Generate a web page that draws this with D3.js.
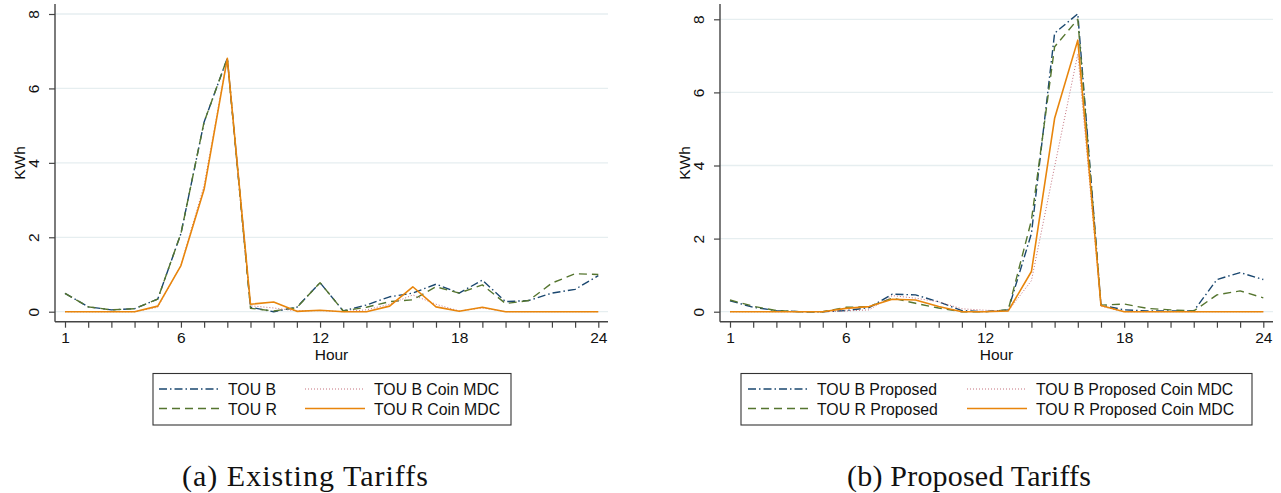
<!DOCTYPE html>
<html>
<head>
<meta charset="utf-8">
<script src="https://cdn.jsdelivr.net/npm/d3@7"></script>
<style>
  html, body { margin: 0; padding: 0; background: #fff; }
  svg { display: block; }
  text { font-family: "Liberation Sans", Arial, Helvetica, sans-serif; fill: #111; }
  .caption { font-family: "Liberation Serif", "Times New Roman", serif; }
</style>
</head>
<body>
<svg id="chart" width="1281" height="493"></svg>
<script>
// Hour of day (x categories) and labelled ticks
const hours = [1, 2, 3, 4, 5, 6, 7, 8, 9, 10, 11, 12, 13, 14, 15, 16, 17, 18, 19, 20, 21, 22, 23, 24];
const hourTickLabels = [1, 6, 12, 18, 24];
const kwhTicks = [0, 2, 4, 6, 8];

// (a) Existing tariffs, average KWh per hour
const existingTouB     = [0.49, 0.13, 0.05, 0.08, 0.34, 2.10, 5.10, 6.81, 0.12, 0.00, 0.12, 0.78, 0.02, 0.18, 0.40, 0.50, 0.74, 0.50, 0.85, 0.27, 0.30, 0.50, 0.60, 0.97];
const existingTouR     = [0.49, 0.13, 0.05, 0.08, 0.34, 2.10, 5.10, 6.81, 0.09, 0.02, 0.11, 0.78, 0.02, 0.12, 0.27, 0.32, 0.67, 0.50, 0.72, 0.22, 0.30, 0.77, 1.02, 1.00];
const existingTouBCoin = [0.00, 0.00, 0.00, 0.00, 0.12, 1.25, 3.40, 6.81, 0.16, 0.10, 0.02, 0.03, 0.00, 0.05, 0.20, 0.45, 0.20, 0.02, 0.10, 0.00, 0.00, 0.00, 0.00, 0.00];
const existingTouRCoin = [0.00, 0.00, 0.00, 0.00, 0.15, 1.24, 3.29, 6.81, 0.20, 0.26, 0.01, 0.04, 0.00, 0.00, 0.15, 0.67, 0.13, 0.01, 0.12, 0.00, 0.00, 0.00, 0.00, 0.00];

// (b) Proposed tariffs, average KWh per hour
const proposedTouB     = [0.30, 0.12, 0.03, 0.00, 0.00, 0.03, 0.11, 0.48, 0.46, 0.27, 0.03, 0.00, 0.05, 2.14, 7.62, 8.15, 0.18, 0.05, 0.02, 0.02, 0.02, 0.88, 1.07, 0.88];
const proposedTouR     = [0.32, 0.15, 0.03, 0.00, 0.00, 0.12, 0.14, 0.37, 0.23, 0.10, 0.00, 0.00, 0.05, 2.50, 7.25, 8.00, 0.18, 0.21, 0.09, 0.05, 0.02, 0.46, 0.57, 0.38];
const proposedTouBCoin = [0.00, 0.00, 0.00, 0.00, 0.00, 0.02, 0.05, 0.44, 0.37, 0.27, 0.08, 0.04, 0.02, 0.85, 3.97, 7.05, 0.15, 0.00, 0.00, 0.00, 0.00, 0.00, 0.00, 0.00];
const proposedTouRCoin = [0.00, 0.00, 0.00, 0.00, 0.00, 0.09, 0.14, 0.34, 0.32, 0.14, 0.00, 0.00, 0.02, 1.10, 5.29, 7.43, 0.17, 0.00, 0.00, 0.00, 0.00, 0.00, 0.00, 0.00];

const existingLabels = ["TOU B", "TOU R", "TOU B Coin MDC", "TOU R Coin MDC"];
const proposedLabels = ["TOU B Proposed", "TOU R Proposed", "TOU B Proposed Coin MDC", "TOU R Proposed Coin MDC"];
const captions = ["(a) Existing Tariffs", "(b) Proposed Tariffs"];
const axisTitles = { x: "Hour", y: "KWh" };

// Line styles for the four series (Stata s2color look)
const styles = [
  { color: "#1a476f", width: 1.4, dash: "8,3,1.5,3" },   // dash-dot
  { color: "#55752f", width: 1.4, dash: "8,5" },         // dashed
  { color: "#c4707c", width: 1.0, dash: "1,2" },         // dotted
  { color: "#e8850c", width: 1.6, dash: null }           // solid
];

const svg = d3.select("#chart");

function drawPanel(p) {
  const g = svg.append("g");
  const x = d3.scaleLinear().domain([1, 24]).range([p.x1, p.x24]);
  const y = d3.scaleLinear().domain([0, 8]).range([p.y0, p.y8]);

  // horizontal grid
  g.selectAll("line.grid").data(kwhTicks).join("line")
    .attr("x1", p.axisLeft).attr("x2", p.axisRight)
    .attr("y1", d => y(d)).attr("y2", d => y(d))
    .attr("stroke", "#e6eef0").attr("stroke-width", 1.3);

  // series lines
  const line = d3.line().x((d, i) => x(hours[i])).y(d => y(d));
  p.series.forEach((s, i) => {
    const st = styles[i];
    g.append("path").datum(s)
      .attr("d", line)
      .attr("fill", "none")
      .attr("stroke", st.color)
      .attr("stroke-width", st.width)
      .attr("stroke-dasharray", st.dash)
      .attr("stroke-linejoin", "round");
  });

  // y axis
  const yAxis = d3.axisLeft(y).tickValues(kwhTicks).tickSize(6).tickFormat(d3.format("d"));
  const ya = g.append("g").attr("transform", `translate(${p.axisLeft},0)`).call(yAxis);
  ya.select(".domain").remove();
  ya.selectAll(".tick line").attr("stroke", "#444").attr("stroke-width", 1.2);
  ya.selectAll(".tick text")
    .attr("x", null).attr("dy", null)
    .attr("transform", `translate(${-16},0) rotate(-90)`)
    .attr("text-anchor", "middle")
    .style("font-size", "15.5px")
    .style("font-family", "'Liberation Sans', Arial, sans-serif")
    .attr("fill", "#111");
  g.append("line")
    .attr("x1", p.axisLeft).attr("x2", p.axisLeft)
    .attr("y1", p.axisTop).attr("y2", p.axisBottom)
    .attr("stroke", "#444").attr("stroke-width", 1.4);

  // x axis: ticks every hour, labels at selected hours
  const xAxis = d3.axisBottom(x).tickValues(hours).tickSize(6)
    .tickFormat(d => hourTickLabels.includes(d) ? String(d) : "");
  const xa = g.append("g").attr("transform", `translate(0,${p.axisBottom})`).call(xAxis);
  xa.select(".domain").remove();
  xa.selectAll(".tick line").attr("stroke", "#444").attr("stroke-width", 1.2);
  xa.selectAll(".tick text")
    .attr("y", 21).attr("dy", null)
    .style("font-size", "15.5px")
    .style("font-family", "'Liberation Sans', Arial, sans-serif")
    .attr("fill", "#111");
  g.append("line")
    .attr("x1", p.axisLeft).attr("x2", p.axisRight)
    .attr("y1", p.axisBottom).attr("y2", p.axisBottom)
    .attr("stroke", "#444").attr("stroke-width", 1.4);

  // axis titles
  g.append("text")
    .attr("x", (p.axisLeft + p.axisRight) / 2).attr("y", 360)
    .attr("text-anchor", "middle").style("font-size", "15.5px")
    .text(axisTitles.x);
  g.append("text")
    .attr("transform", `translate(${p.axisLeft - 30},${163}) rotate(-90)`)
    .attr("text-anchor", "middle").style("font-size", "15.5px")
    .text(axisTitles.y);

  // legend
  const L = p.legend;
  g.append("rect")
    .attr("x", L.x).attr("y", 373.5).attr("width", L.w).attr("height", 51.5)
    .attr("fill", "#fff").attr("stroke", "#333").attr("stroke-width", 1.1);
  const order = [0, 2, 1, 3]; // row-major: B, B coin / R, R coin
  order.forEach((si, k) => {
    const col = k % 2, row = Math.floor(k / 2);
    const ky = row === 0 ? 389 : 408.5;
    const kx = col === 0 ? L.k1 : L.k2;
    const st = styles[si];
    g.append("line")
      .attr("x1", kx).attr("x2", kx + L.kw)
      .attr("y1", ky).attr("y2", ky)
      .attr("stroke", st.color).attr("stroke-width", st.width)
      .attr("stroke-dasharray", st.dash);
    g.append("text")
      .attr("x", kx + L.kw + L.gap).attr("y", ky + 6)
      .style("font-size", "15.8px")
      .text(p.labels[si]);
  });

  // caption
  g.append("text")
    .attr("class", "caption")
    .attr("x", p.capX).attr("y", 486)
    .attr("text-anchor", "middle")
    .attr("textLength", p.capW).attr("lengthAdjust", "spacing")
    .style("font-size", "30px")
    .text(p.caption);
}

drawPanel({
  x1: 65, x24: 598.3, y0: 311.7, y8: 14,
  axisLeft: 55, axisRight: 608, axisTop: 4, axisBottom: 321.7,
  series: [existingTouB, existingTouR, existingTouBCoin, existingTouRCoin],
  labels: existingLabels,
  legend: { x: 153, w: 358, k1: 159, k2: 305, kw: 60, gap: 9 },
  caption: captions[0], capX: 305, capW: 246
});

drawPanel({
  x1: 730, x24: 1263.3, y0: 311.7, y8: 19.3,
  axisLeft: 720, axisRight: 1273, axisTop: 4, axisBottom: 321.7,
  series: [proposedTouB, proposedTouR, proposedTouBCoin, proposedTouRCoin],
  labels: proposedLabels,
  legend: { x: 741, w: 511, k1: 748, k2: 967, kw: 60, gap: 9 },
  caption: captions[1], capX: 969, capW: 244
});
</script>
</body>
</html>
